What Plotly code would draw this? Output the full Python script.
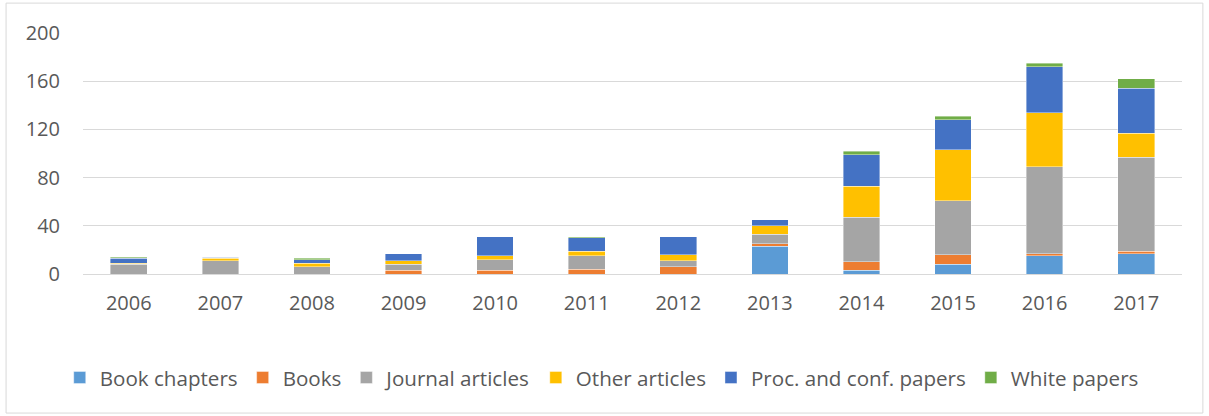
import plotly.graph_objects as go

years = ["2006", "2007", "2008", "2009", "2010", "2011", "2012", "2013", "2014", "2015", "2016", "2017"]
book_chapters = [0, 0, 0, 0, 0, 0, 0, 23, 3, 8, 15, 17]
books = [0, 0, 0, 3, 3, 4, 6, 2, 7, 8, 2, 2]
journal_articles = [8, 11, 6, 5, 9, 11, 5, 8, 37, 45, 72, 78]
other_articles = [1, 2, 3, 3, 3, 4, 5, 7, 26, 42, 45, 20]
proc_conf_papers = [4, 1, 3, 6, 16, 11, 15, 5, 26, 25, 38, 37]
white_papers = [1, 0, 1, 0, 0, 1, 0, 0, 3, 3, 3, 8]

series = [
    ("Book chapters", book_chapters, "#5B9BD5"),
    ("Books", books, "#ED7D31"),
    ("Journal articles", journal_articles, "#A5A5A5"),
    ("Other articles", other_articles, "#FFC000"),
    ("Proc. and conf. papers", proc_conf_papers, "#4472C4"),
    ("White papers", white_papers, "#70AD47"),
]

font_family = "'Open Sans', 'Noto Sans', sans-serif"
txt = "#595959"

fig = go.Figure()
for name, vals, color in series:
    fig.add_trace(go.Bar(
        x=years, y=vals, name=name,
        marker=dict(color=color, line=dict(color="rgba(255,255,255,0.5)", width=0.8)),
    ))

fig.update_layout(
    barmode="stack",
    bargap=0.6,
    width=1209, height=416,
    margin=dict(l=83, r=27, t=33, b=142, autoexpand=False),
    paper_bgcolor="white",
    plot_bgcolor="white",
    font=dict(family=font_family, size=20, color=txt),
    xaxis=dict(showgrid=False, showline=False, ticks="", automargin=False,
               ticklabelstandoff=15, tickfont=dict(size=20, color=txt)),
    yaxis=dict(range=[0, 200], tickvals=[0, 40, 80, 120, 160, 200], showgrid=True,
               gridcolor="#D9D9D9", gridwidth=1, zeroline=True, zerolinecolor="#D9D9D9",
               zerolinewidth=1, showline=False, ticks="", automargin=False,
               ticklabelstandoff=22, tickfont=dict(size=20, color=txt)),
    legend=dict(orientation="h", x=0.472, xanchor="center",
                y=-0.43, yanchor="middle", font=dict(size=20.6, color=txt),
                traceorder="normal", itemwidth=30),
    shapes=[dict(type="rect", xref="paper", yref="paper", x0=-0.070, x1=1.019,
                 y0=-0.577, y1=1.124, line=dict(color="#D9D9D9", width=1), layer="below")],
)

fig.write_html("out.html", config={"displayModeBar": False},
               post_script="document.body.style.margin='0';")
